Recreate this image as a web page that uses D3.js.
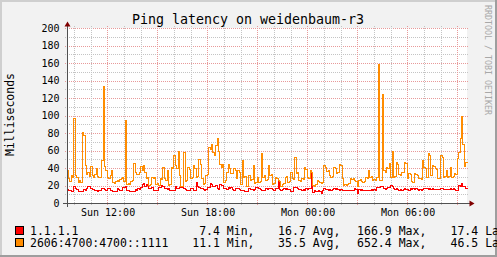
<!DOCTYPE html>
<html>
<head>
<meta charset="utf-8">
<script src="https://cdn.jsdelivr.net/npm/d3@7"></script>
<style>
  html, body { margin: 0; padding: 0; background: #f2f2f2; }
  svg { display: block; font-family: "DejaVu Sans Mono", monospace; }
  text { white-space: pre; }
</style>
</head>
<body>
<svg id="chart" width="497" height="257"></svg>
<script>
const title = "Ping latency on weidenbaum-r3"
const yLabel = "Milliseconds"
const watermark = "RRDTOOL / TOBI OETIKER"
// one sample every 5 minutes, starting Sunday 09:35
const startTime = new Date(2020, 0, 5, 9, 35)
const stepMinutes = 5
const hosts = ["1.1.1.1", "2606:4700:4700::1111"]
const hostColors = ["#ff0000", "#ff8c00"]

const pingV4 = [
  15.6, 14.8, 15.2, 13.7, 14.0, 19.8, 16.7, 16.2, 13.7, 14.2, 13.5, 13.8, 15.6, 15.0, 16.7, 19.8, 19.0, 16.7, 16.2, 16.0, 15.4, 14.8, 14.2, 15.0,
  14.6, 16.7, 17.2, 15.9, 15.4, 17.5, 17.0, 14.8, 15.2, 13.7, 14.2, 13.6, 16.7, 16.0, 14.5, 14.9, 18.6, 18.0, 18.9, 14.8, 15.3, 13.7, 14.0, 13.6,
  13.9, 15.6, 15.2, 16.7, 16.3, 18.6, 22.0, 23.0, 19.0, 22.0, 21.0, 17.5, 17.0, 17.8, 14.8, 15.3, 14.6, 15.0, 18.6, 18.0, 20.5, 20.0, 16.7, 17.2,
  16.5, 16.9, 14.8, 15.2, 14.5, 15.0, 19.8, 16.7, 17.1, 18.6, 18.0, 18.9, 16.7, 16.3, 14.8, 15.4, 14.6, 17.5, 17.0, 14.8, 15.3, 24.0, 20.0, 18.0,
  17.5, 17.0, 15.6, 15.1, 15.8, 18.6, 18.1, 22.4, 21.5, 19.8, 19.2, 20.1, 16.7, 16.2, 21.3, 20.6, 21.0, 16.7, 17.2, 16.5, 18.6, 17.5, 17.8, 15.6,
  15.2, 17.5, 17.0, 17.6, 15.6, 15.1, 14.8, 15.3, 13.7, 14.1, 13.6, 16.7, 16.2, 15.6, 15.2, 15.8, 18.6, 18.0, 16.7, 16.3, 14.8, 15.2, 14.6, 16.7,
  16.1, 17.5, 17.0, 17.4, 15.6, 15.2, 17.5, 17.0, 25.0, 15.6, 15.1, 15.8, 16.7, 16.3, 16.9, 16.5, 16.2, 13.7, 14.1, 18.6, 18.1, 18.4, 16.7, 16.2,
  15.6, 15.2, 15.8, 15.4, 16.7, 16.2, 16.8, 17.5, 34.0, 13.0, 14.8, 14.0, 13.7, 14.8, 14.2, 12.0, 14.8, 16.7, 16.2, 15.6, 15.2, 15.8, 15.3, 15.6,
  16.7, 16.2, 16.8, 15.6, 15.1, 15.7, 15.3, 14.8, 14.4, 15.0, 14.6, 14.8, 14.3, 14.9, 14.7, 16.7, 16.2, 11.0, 15.6, 15.2, 15.8, 15.4, 14.8, 14.4,
  15.0, 14.6, 14.8, 15.6, 15.2, 15.8, 15.4, 18.6, 18.0, 18.8, 19.8, 19.2, 16.7, 16.2, 16.8, 18.6, 18.0, 20.5, 19.0, 16.7, 16.2, 16.8, 15.6, 15.2,
  15.8, 15.4, 15.6, 16.7, 16.2, 15.6, 15.2, 16.7, 16.2, 16.8, 16.4, 16.7, 15.6, 15.2, 15.8, 15.4, 15.6, 17.5, 17.0, 16.7, 16.2, 16.8, 16.4, 16.7,
  16.0, 15.6, 16.3, 15.9, 16.0, 17.5, 17.0, 16.0, 15.6, 16.3, 15.9, 16.0, 16.7, 16.2, 16.8, 16.4, 14.8, 15.2, 20.5, 20.0, 22.4, 19.8, 19.3, 17.4
]

const pingV6 = [
  38, 28, 25, 32, 30, 97, 32, 30, 24, 26, 24, 81, 78, 44, 33, 35, 31, 42, 32, 30, 33, 40, 31, 30,
  30, 49, 134, 42, 38, 30, 28, 32, 38, 24, 23, 25, 26, 25, 27, 28, 30, 25, 95, 22, 23, 22, 25, 26,
  46, 36, 33, 33, 35, 42, 38, 44, 35, 28, 30, 21, 22, 30, 29, 30, 22, 23, 21, 28, 27, 41, 28, 26,
  38, 21, 22, 41, 40, 55, 43, 40, 60, 32, 19, 20, 58, 25, 26, 41, 39, 28, 30, 43, 40, 30, 31, 50,
  45, 28, 22, 23, 32, 33, 64, 62, 68, 58, 55, 66, 74, 60, 45, 41, 45, 24, 26, 36, 45, 40, 34, 34,
  40, 38, 28, 38, 36, 22, 49, 30, 31, 19, 20, 32, 26, 27, 43, 23, 24, 30, 24, 25, 57, 30, 32, 26,
  27, 43, 32, 33, 22, 23, 30, 29, 26, 25, 20, 22, 23, 30, 31, 24, 25, 36, 28, 27, 53, 34, 35, 26,
  25, 28, 27, 41, 39, 30, 29, 38, 35, 21, 20, 22, 26, 25, 24, 23, 24, 43, 41, 37, 38, 32, 30, 31,
  41, 40, 34, 35, 45, 44, 28, 21, 22, 21, 22, 23, 28, 27, 29, 26, 25, 20, 26, 27, 25, 24, 25, 30,
  29, 38, 30, 31, 26, 27, 26, 30, 159, 26, 26, 125, 38, 36, 41, 40, 46, 30, 60, 30, 31, 47, 45, 33,
  32, 35, 36, 47, 46, 29, 34, 33, 25, 24, 34, 33, 32, 28, 29, 27, 49, 41, 40, 30, 57, 55, 32, 43,
  42, 40, 39, 29, 28, 55, 53, 30, 31, 38, 30, 31, 41, 30, 31, 34, 33, 51, 58, 74, 100, 68, 42, 46.5
]

const legendStats = [
  ["  7.4 Min,", " 16.7 Avg,", "166.9 Max,", " 17.4 Last"],
  [" 11.1 Min,", " 35.5 Avg,", "652.4 Max,", " 46.5 Last"]
]
const yMax = 200
const yLabelStep = 20
const yMinorStep = 10

const svg = d3.select("#chart")
const W = 497, H = 257
const margin = { left: 67, top: 28, right: 30, bottom: 54 }
const plotW = W - margin.left - margin.right
const plotH = H - margin.top - margin.bottom

const endTime = d3.timeMinute.offset(startTime, stepMinutes * pingV4.length)
const x = d3.scaleTime().domain([startTime, endTime]).range([margin.left, margin.left + plotW])
const y = d3.scaleLinear().domain([0, yMax]).range([margin.top + plotH, margin.top])
const px = v => Math.round(v) + 0.5
const pxFloor = v => Math.floor(v) + 0.5

// background and canvas
svg.append("rect").attr("width", W).attr("height", H).attr("fill", "#f2f2f2")
svg.append("rect").attr("x", 0).attr("y", 0).attr("width", W).attr("height", 2).attr("fill", "#cfcfcf")
svg.append("rect").attr("x", 0).attr("y", 0).attr("width", 2).attr("height", H).attr("fill", "#cfcfcf")
svg.append("rect").attr("x", W - 2).attr("y", 0).attr("width", 2).attr("height", H).attr("fill", "#9e9e9e")
svg.append("rect").attr("x", 0).attr("y", H - 2).attr("width", W).attr("height", 2).attr("fill", "#9e9e9e")
svg.append("rect").attr("x", margin.left).attr("y", margin.top)
  .attr("width", plotW).attr("height", plotH).attr("fill", "#ffffff")

const grid = svg.append("g").attr("shape-rendering", "crispEdges")

// horizontal grid
d3.range(yMinorStep, yMax + 1, yMinorStep).forEach(v => {
  const major = v % yLabelStep === 0
  grid.append("line")
    .attr("x1", margin.left - 2).attr("x2", margin.left + plotW + 2)
    .attr("y1", px(y(v))).attr("y2", px(y(v)))
    .attr("stroke", major ? "#e89a9a" : "#c4c4c4")
    .attr("stroke-dasharray", "1,1")
})

// vertical grid: minor every hour, major every 3 hours
x.ticks(d3.timeHour.every(1)).forEach(t => {
  const major = t.getHours() % 3 === 0
  grid.append("line")
    .attr("x1", px(x(t))).attr("x2", px(x(t)))
    .attr("y1", margin.top - 2).attr("y2", margin.top + plotH + (major ? 3 : 2))
    .attr("stroke", major ? "#e89a9a" : "#c4c4c4")
    .attr("stroke-dasharray", "1,1")
})

// data lines, snapped to pixel columns like rrdtool does
const series = [pingV4, pingV6]
const line = d3.line()
  .x(d => pxFloor(x(d.t)))
  .y(d => px(y(d.v)))
  .curve(d3.curveStepAfter)

series.forEach((values, i) => {
  const pts = values.map((v, j) => ({ t: d3.timeMinute.offset(startTime, j * stepMinutes), v }))
  pts.push({ t: endTime, v: values[values.length - 1] })
  svg.append("path")
    .datum(pts)
    .attr("fill", "none")
    .attr("stroke", hostColors[i])
    .attr("stroke-width", 1)
    .attr("shape-rendering", "crispEdges")
    .attr("d", line)
})

// axes
const axisG = svg.append("g").attr("shape-rendering", "crispEdges")
axisG.append("line")
  .attr("x1", margin.left - 4).attr("x2", margin.left + plotW + 4)
  .attr("y1", px(y(0))).attr("y2", px(y(0)))
  .attr("stroke", "#505050")
axisG.append("line")
  .attr("x1", px(margin.left)).attr("x2", px(margin.left))
  .attr("y1", y(0) + 4).attr("y2", y(yMax) - 4)
  .attr("stroke", "#505050")

const xo = margin.left, yo = y(0)
svg.append("path")
  .attr("d", `M${xo + plotW + 2},${yo - 3}L${xo + plotW + 2},${yo + 3}L${xo + plotW + 7},${yo}Z`)
  .attr("fill", "#800000")
  .attr("transform", "translate(0.5,0.5)")
svg.append("path")
  .attr("d", `M${xo - 3},${y(yMax) - 2}L${xo + 3},${y(yMax) - 2}L${xo},${y(yMax) - 7}Z`)
  .attr("fill", "#800000")
  .attr("transform", "translate(0.5,0.5)")

// y labels
svg.append("g").selectAll("text")
  .data(d3.range(0, yMax + 1, yLabelStep))
  .join("text")
  .attr("x", margin.left - 7.5)
  .attr("y", d => y(d) + 3.7)
  .attr("text-anchor", "end")
  .attr("font-size", 10)
  .attr("fill", "#000")
  .text(d => d)

// x labels every 6 hours
const fmt = d3.timeFormat("%a %H:%M")
svg.append("g").selectAll("text")
  .data(x.ticks(d3.timeHour.every(6)))
  .join("text")
  .attr("x", d => x(d) + 0.8)
  .attr("y", 215.5)
  .attr("text-anchor", "middle")
  .attr("font-size", 10)
  .attr("fill", "#000")
  .text(d => fmt(d))

// title
svg.append("text")
  .attr("x", 248).attr("y", 23.5)
  .attr("text-anchor", "middle")
  .attr("font-size", 13.3)
  .attr("fill", "#000")
  .text(title)

// y-axis unit label
svg.append("text")
  .attr("transform", `translate(14,${margin.top + plotH / 2 - 1}) rotate(-90)`)
  .attr("text-anchor", "middle")
  .attr("font-size", 11.5)
  .attr("fill", "#000")
  .text(yLabel)

// watermark
svg.append("text")
  .attr("transform", "translate(485,5) rotate(90)")
  .attr("font-size", 8.3)
  .attr("fill", "#a8a8a8")
  .text(watermark)

// legend
const legendY = [235, 247]
const statX = [185.3, 271.2, 357.1, 443.6]
hosts.forEach((h, i) => {
  svg.append("rect")
    .attr("x", 15.5).attr("y", legendY[i] - 8.5)
    .attr("width", 8).attr("height", 8)
    .attr("fill", hostColors[i]).attr("stroke", "#000")
    .attr("shape-rendering", "crispEdges")
  svg.append("text")
    .attr("x", 30).attr("y", legendY[i])
    .attr("font-size", 11.5).attr("fill", "#000")
    .text(h)
  legendStats[i].forEach((s, k) => {
    svg.append("text")
      .attr("x", statX[k]).attr("y", legendY[i])
      .attr("font-size", 11.5).attr("fill", "#000")
      .text(s)
  })
})
</script>
</body>
</html>
